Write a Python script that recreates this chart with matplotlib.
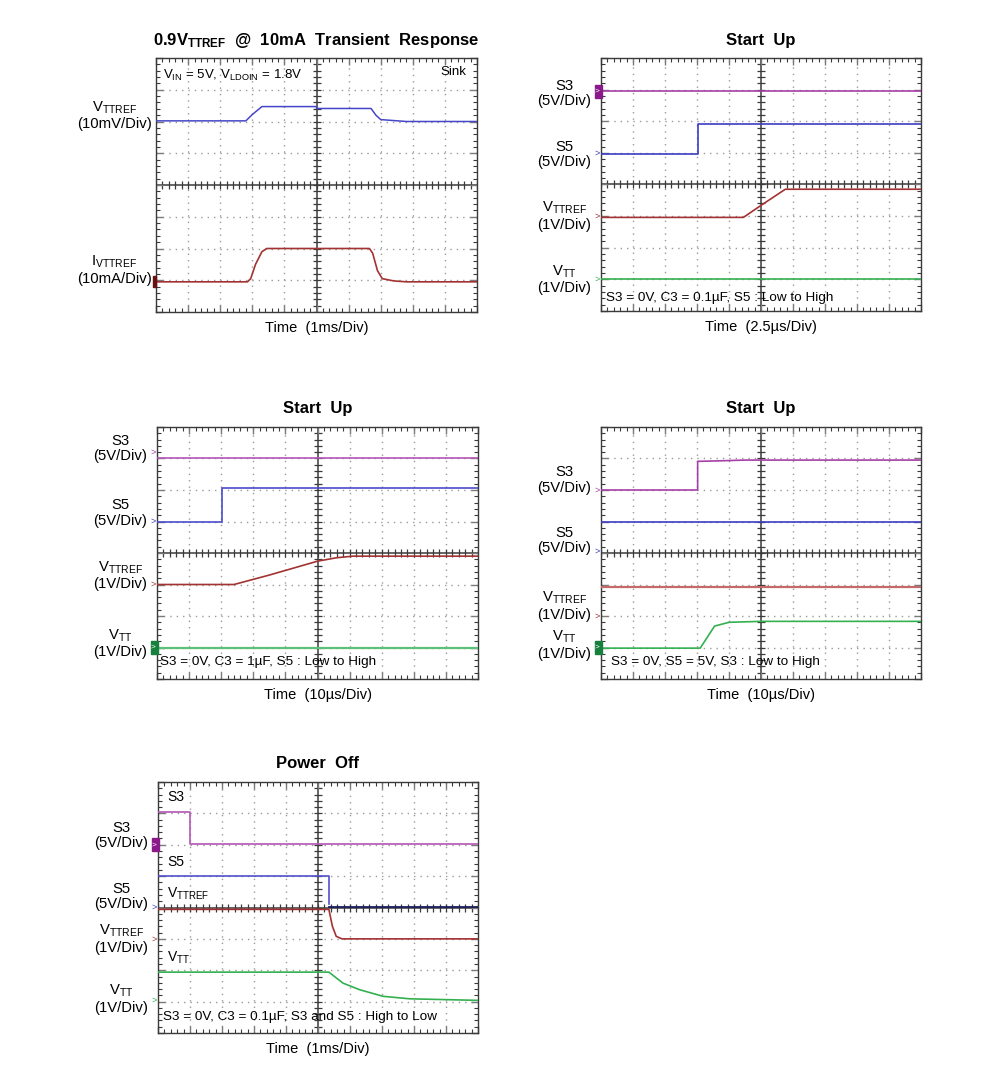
import numpy as np
import matplotlib
matplotlib.use('Agg')
import matplotlib.pyplot as plt
from matplotlib.patches import Rectangle

plt.rcParams['font.family'] = ['Liberation Sans', 'DejaVu Sans']
plt.rcParams['mathtext.fontset'] = 'custom'
plt.rcParams['mathtext.rm'] = 'Liberation Sans'
plt.rcParams['mathtext.it'] = 'Liberation Sans'
plt.rcParams['mathtext.bf'] = 'Liberation Sans:bold'

# ---- data (in scope divisions: x 0..10, y 0..8) ----
# panel 1 : transient response
p1_t_v = [0, 2.8, 3.0, 3.3, 5.0, 5.0, 6.7, 6.85, 7.0, 7.8, 10]
p1_vttref = [6.02, 6.02, 6.22, 6.47, 6.47, 6.41, 6.41, 6.2, 6.06, 6.0, 6.0]
p1_t_i = [0, 2.85, 2.95, 3.1, 3.3, 3.45, 6.65, 6.75, 6.9, 7.05, 7.4, 7.8, 10]
p1_ivttref = [0.95, 0.95, 1.05, 1.5, 1.9, 2.0, 2.0, 1.85, 1.3, 1.05, 0.98, 0.95, 0.95]

# panel 2 : start up, C3 = 0.1uF, 2.5us/div
p2_t_s3 = [0, 10]
p2_s3 = [6.95, 6.95]
p2_t_s5 = [0, 3.02, 3.02, 10]
p2_s5 = [4.96, 4.96, 5.92, 5.92]
p2_t_ref = [0, 4.45, 5.03, 5.76, 10]
p2_vttref = [2.96, 2.96, 3.36, 3.85, 3.85]
p2_t_vtt = [0, 10]
p2_vtt = [1.0, 1.0]

# panel 3 : start up, C3 = 1uF, 10us/div
p3_t_s3 = [0, 10]
p3_s3 = [7.0, 7.0]
p3_t_s5 = [0, 2.02, 2.02, 10]
p3_s5 = [5.0, 5.0, 6.05, 6.05]
p3_t_ref = [0, 2.4, 3.5, 5.0, 5.6, 6.1, 10]
p3_vttref = [3.0, 3.0, 3.3, 3.74, 3.85, 3.9, 3.9]
p3_t_vtt = [0, 10]
p3_vtt = [0.98, 0.98]

# panel 4 : start up, S3 low to high, 10us/div
p4_t_s3 = [0, 3.02, 3.02, 3.5, 4.5, 10]
p4_s3 = [6.0, 6.0, 6.91, 6.92, 6.95, 6.95]
p4_t_s5 = [0, 10]
p4_s5 = [4.97, 4.97]
p4_t_ref = [0, 10]
p4_vttref = [2.91, 2.91]
p4_t_vtt = [0, 3.1, 3.55, 4.0, 5.0, 10]
p4_vtt = [0.98, 0.98, 1.68, 1.8, 1.83, 1.83]

# panel 5 : power off, 1ms/div
p5_t_s3 = [0, 1.01, 1.01, 10]
p5_s3 = [7.05, 7.05, 6.03, 6.03]
p5_t_s5_hi = [0, 5.34, 5.34]
p5_s5_hi = [5.01, 5.01, 4.1]
p5_t_s5_lo = [5.34, 10]
p5_s5_lo = [4.02, 4.02]
p5_t_ref = [0, 5.34, 5.45, 5.57, 5.75, 10]
p5_vttref = [3.94, 3.94, 3.4, 3.08, 3.0, 3.0]
p5_t_vtt = [0, 5.34, 5.78, 6.3, 7.03, 7.86, 10]
p5_vtt = [1.94, 1.94, 1.59, 1.38, 1.17, 1.09, 1.04]

PURPLE = '#a63fa6'
BLUE = '#3c3cc4'
NAVY = '#1c1c5c'
RED = '#a33232'
GREEN = '#33b04f'
DKGREEN = '#17803c'
GRID = '#9a9a9a'
FRAME = '#3a3a3a'

fig = plt.figure(figsize=(9.91, 10.77), dpi=100)
W, H = 991.0, 1077.0


def make_ax(x0, y0, x1, y1):
    return fig.add_axes([x0 / W, 1 - y1 / H, (x1 - x0) / W, (y1 - y0) / H])


# 示波器的格子
def scope(ax):
    ax.set_xlim(0, 10)
    ax.set_ylim(0, 8)
    ax.set_xticks(range(11))
    ax.set_yticks(range(9))
    ax.set_xticks(np.arange(0, 10.01, 0.2), minor=True)
    ax.set_yticks(np.arange(0, 8.01, 0.2), minor=True)
    ax.tick_params(which='both', direction='in', top=True, right=True,
                   labelbottom=False, labelleft=False, color=FRAME)
    ax.tick_params(which='major', length=5, width=1.0, color='#7a7a7a')
    ax.tick_params(which='minor', length=3, width=0.8)
    for s in ax.spines.values():
        s.set_color(FRAME)
        s.set_linewidth(1.0)
    for i in range(1, 10):
        if i != 5:
            ax.axvline(i, color=GRID, lw=1.0, ls=(0, (1, 3.6)), zorder=0)
    for j in range(1, 8):
        if j != 4:
            ax.axhline(j, color=GRID, lw=1.0, ls=(0, (1, 3.6)), zorder=0)
    ax.axhline(4, color=FRAME, lw=1.1, zorder=1)
    ax.axvline(5, color=FRAME, lw=1.1, zorder=1)
    xs = np.arange(0, 10.01, 0.2)
    ys = np.arange(0, 8.01, 0.2)
    ax.plot(xs, [4] * len(xs), ls='none', marker='|', ms=6, mew=0.9, color=FRAME, zorder=1)
    ax.plot([5] * len(ys), ys, ls='none', marker='_', ms=6, mew=0.9, color=FRAME, zorder=1)


def left_label(ax, y, txt, pad=7):
    ax.annotate(txt, xy=(0, y), xycoords=('axes fraction', 'data'),
                xytext=(-pad, 0), textcoords='offset points', ha='right', va='center',
                multialignment='center', fontsize=10.7, linespacing=1.15,
                annotation_clip=False)


def arrow(ax, y, c):
    ax.annotate('>', xy=(0, y), xycoords=('axes fraction', 'data'),
                xytext=(-2.5, 0), textcoords='offset points', ha='center', va='center',
                fontsize=6.5, color=c, annotation_clip=False)


def tag(ax, y, c):
    ax.add_patch(Rectangle((-0.019, y - 0.2), 0.022, 0.4, transform=ax.get_yaxis_transform(),
                           color=c, clip_on=False, zorder=5))
    ax.annotate('>', xy=(0, y), xycoords=('axes fraction', 'data'),
                xytext=(-2.5, 0), textcoords='offset points', ha='center', va='center',
                fontsize=6, color='white', annotation_clip=False, zorder=6)


def titles(ax, title, xlabel, h):
    ax.text(0.5, 1 + 18 / h, title, transform=ax.transAxes, ha='center', va='center',
            fontsize=12, fontweight='bold')
    ax.text(0.5, -16 / h, xlabel, transform=ax.transAxes, ha='center', va='center',
            fontsize=10.5)


TT = r'V$_{\mathrm{TTREF}}$'
VT = r'V$_{\mathrm{TT}}$'

# ---- panel 1 ----
ax1 = make_ax(156, 58, 477, 312)
scope(ax1)
ax1.plot(p1_t_v, p1_vttref, color='#4646c8', lw=1.1, zorder=3)
ax1.plot(p1_t_i, p1_ivttref, color=RED, lw=1.2, zorder=3)
titles(ax1, r'0.9V$_{\mathbf{TTREF}}$  @  10mA  Transient  Response', 'Time  (1ms/Div)', 254)
left_label(ax1, 6.2, TT + '\n(10mV/Div)', pad=3)
left_label(ax1, 1.32, r'I$_{\mathrm{VTTREF}}$' + '\n(10mA/Div)', pad=3)
ax1.add_patch(Rectangle((-0.008, 0.78), 0.008, 0.36, transform=ax1.get_yaxis_transform(),
                        color='#6a1010', clip_on=False, zorder=5))
ax1.text(0.22, 7.46, r'V$_{\mathrm{IN}}$ = 5V, V$_{\mathrm{LDOIN}}$ = 1.8V', ha='left', va='center',
         fontsize=9.5)
ax1.text(9.66, 7.55, 'Sink', ha='right', va='center', fontsize=9.5)

# ---- panel 2 ----
ax2 = make_ax(601, 58, 921, 311)
scope(ax2)
ax2.plot(p2_t_s3, p2_s3, color=PURPLE, lw=1.2, zorder=3)
ax2.plot(p2_t_s5, p2_s5, color=BLUE, lw=1.2, zorder=3)
ax2.plot(p2_t_ref, p2_vttref, color=RED, lw=1.2, zorder=3)
ax2.plot(p2_t_vtt, p2_vtt, color=GREEN, lw=1.2, zorder=3)
titles(ax2, 'Start  Up', 'Time  (2.5\u00b5s/Div)', 253)
left_label(ax2, 6.88, 'S3\n(5V/Div)')
left_label(ax2, 4.95, 'S5\n(5V/Div)')
left_label(ax2, 3.0, TT + '\n(1V/Div)')
left_label(ax2, 1.0, VT + '\n(1V/Div)')
tag(ax2, 6.95, '#8a1a8a')
arrow(ax2, 5.0, BLUE)
arrow(ax2, 3.0, RED)
arrow(ax2, 1.0, GREEN)
ax2.text(0.16, 0.41, 'S3 = 0V, C3 = 0.1\u00b5F, S5 : Low to High', ha='left', va='center',
         fontsize=9.7)

# ---- panel 3 ----
ax3 = make_ax(157, 427, 478, 679)
scope(ax3)
ax3.plot(p3_t_s3, p3_s3, color='#b455b4', lw=1.2, zorder=3)
ax3.plot(p3_t_s5, p3_s5, color='#4b4bcc', lw=1.2, zorder=3)
ax3.plot(p3_t_ref, p3_vttref, color=RED, lw=1.2, zorder=3)
ax3.plot(p3_t_vtt, p3_vtt, color='#5cc07a', lw=1.6, zorder=3)
titles(ax3, 'Start  Up', 'Time  (10\u00b5s/Div)', 252)
left_label(ax3, 7.32, 'S3\n(5V/Div)')
left_label(ax3, 5.27, 'S5\n(5V/Div)')
left_label(ax3, 3.29, TT + '\n(1V/Div)')
left_label(ax3, 1.13, VT + '\n(1V/Div)')
arrow(ax3, 7.2, PURPLE)
arrow(ax3, 5.0, BLUE)
arrow(ax3, 3.0, RED)
tag(ax3, 1.0, DKGREEN)
ax3.text(0.1, 0.54, 'S3 = 0V, C3 = 1\u00b5F, S5 : Low to High', ha='left', va='center',
         fontsize=9.7)

# ---- panel 4 ----
ax4 = make_ax(601, 427, 921, 679)
scope(ax4)
ax4.plot(p4_t_s3, p4_s3, color=PURPLE, lw=1.2, zorder=3)
ax4.plot(p4_t_s5, p4_s5, color=BLUE, lw=1.2, zorder=3)
ax4.plot(p4_t_ref, p4_vttref, color='#c46a6a', lw=1.6, zorder=3)
ax4.plot(p4_t_vtt, p4_vtt, color=GREEN, lw=1.2, zorder=3)
titles(ax4, 'Start  Up', 'Time  (10\u00b5s/Div)', 252)
left_label(ax4, 6.32, 'S3\n(5V/Div)')
left_label(ax4, 4.4, 'S5\n(5V/Div)')
left_label(ax4, 2.33, TT + '\n(1V/Div)')
left_label(ax4, 1.08, VT + '\n(1V/Div)')
arrow(ax4, 6.0, PURPLE)
arrow(ax4, 4.05, BLUE)
arrow(ax4, 2.0, RED)
tag(ax4, 1.0, DKGREEN)
ax4.text(0.31, 0.54, 'S3 = 0V, S5 = 5V, S3 : Low to High', ha='left', va='center',
         fontsize=9.7)

# ---- panel 5 ----
ax5 = make_ax(158, 782, 478, 1033)
scope(ax5)
ax5.plot(p5_t_s3, p5_s3, color='#b455b4', lw=1.2, zorder=3)
ax5.plot(p5_t_s5_hi, p5_s5_hi, color='#5050cc', lw=1.2, zorder=3)
ax5.plot(p5_t_s5_lo, p5_s5_lo, color=NAVY, lw=1.3, zorder=3)
ax5.plot(p5_t_ref, p5_vttref, color=RED, lw=1.2, zorder=3)
ax5.plot(p5_t_vtt, p5_vtt, color=GREEN, lw=1.2, zorder=3)
titles(ax5, 'Power  Off', 'Time  (1ms/Div)', 251)
left_label(ax5, 6.3, 'S3\n(5V/Div)')
left_label(ax5, 4.35, 'S5\n(5V/Div)')
left_label(ax5, 3.0, TT + '\n(1V/Div)')
left_label(ax5, 1.08, VT + '\n(1V/Div)')
tag(ax5, 6.0, '#8a1a8a')
arrow(ax5, 4.0, BLUE)
arrow(ax5, 3.0, RED)
arrow(ax5, 1.05, GREEN)
ax5.text(0.28, 7.52, 'S3', ha='left', va='center', fontsize=10)
ax5.text(0.28, 5.45, 'S5', ha='left', va='center', fontsize=10)
ax5.text(0.28, 4.43, TT, ha='left', va='center', fontsize=10)
ax5.text(0.28, 2.39, VT, ha='left', va='center', fontsize=10)
ax5.text(0.16, 0.51, 'S3 = 0V, C3 = 0.1\u00b5F, S3 and S5 : High to Low', ha='left', va='center',
         fontsize=9.7)

fig.savefig('out.png', dpi=100)
